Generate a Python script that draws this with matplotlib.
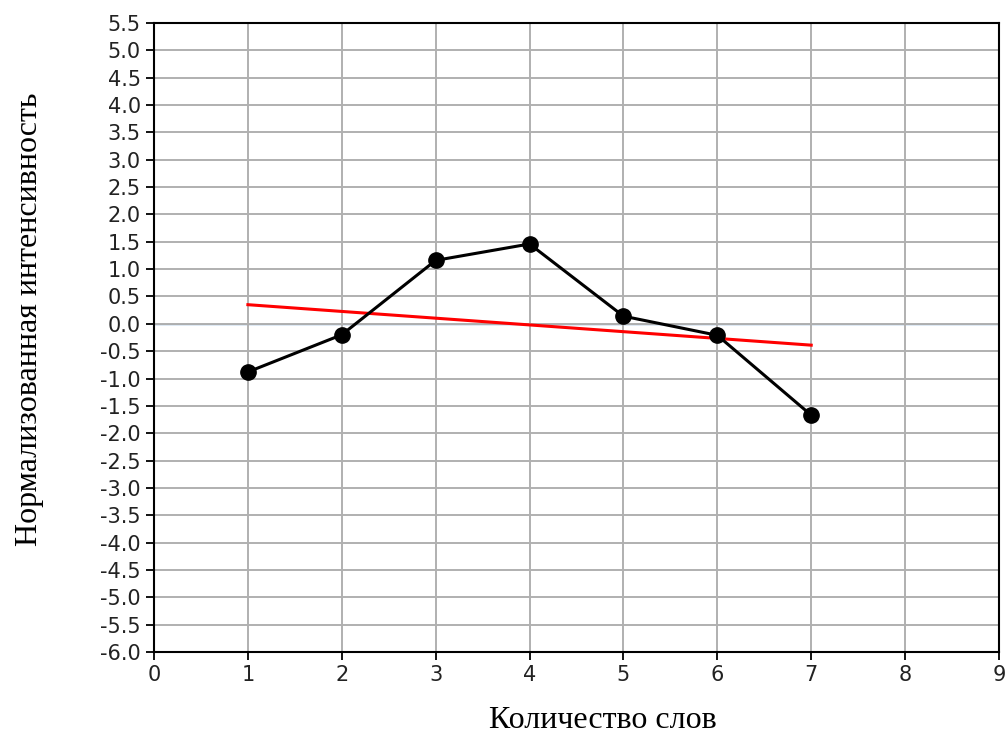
import matplotlib
matplotlib.use("Agg")
import matplotlib.pyplot as plt
import numpy as np

# Data
word_counts = [1, 2, 3, 4, 5, 6, 7]
intensity = [-0.88, -0.20, 1.16, 1.46, 0.14, -0.21, -1.67]
trend_x = [1, 7]
trend_y = [0.35, -0.39]
x_ticks = [0, 1, 2, 3, 4, 5, 6, 7, 8, 9]
y_ticks = [-6.0 + 0.5 * i for i in range(24)]
x_label = "Количество слов"
y_label = "Нормализованная интенсивность"

fig = plt.figure(figsize=(10.08, 7.36), dpi=100)
ax = fig.add_axes([154/1008, 1 - 652/736, (999-154)/1008, (652-23)/736])

ax.grid(True, color="#b0b0b0", linewidth=1.4, zorder=0)
ax.axhline(0, color="#5b8fc7", linewidth=1.0, zorder=1)
ax.plot(trend_x, trend_y, color="red", linewidth=2.2, zorder=2)
ax.plot(word_counts, intensity, color="black", linewidth=2.2, marker="o",
        markersize=11, zorder=3)

ax.set_xlim(0, 9)
ax.set_ylim(-6.0, 5.5)
ax.set_xticks(x_ticks)
ax.set_yticks(y_ticks)
ax.set_yticklabels([f"{v:.1f}" for v in y_ticks])
ax.tick_params(labelsize=15, length=6, width=1.3, colors="black", labelcolor="#222222")
for s in ax.spines.values():
    s.set_linewidth(1.5)

fig.text(603/1008, 1 - 721/736, x_label, family="Liberation Serif",
         fontsize=23, ha="center", va="center")
fig.text(30/1008, 1 - 319/736, y_label, family="Liberation Serif",
         fontsize=23, ha="center", va="center", rotation=90)

fig.savefig("out.png", dpi=100)
